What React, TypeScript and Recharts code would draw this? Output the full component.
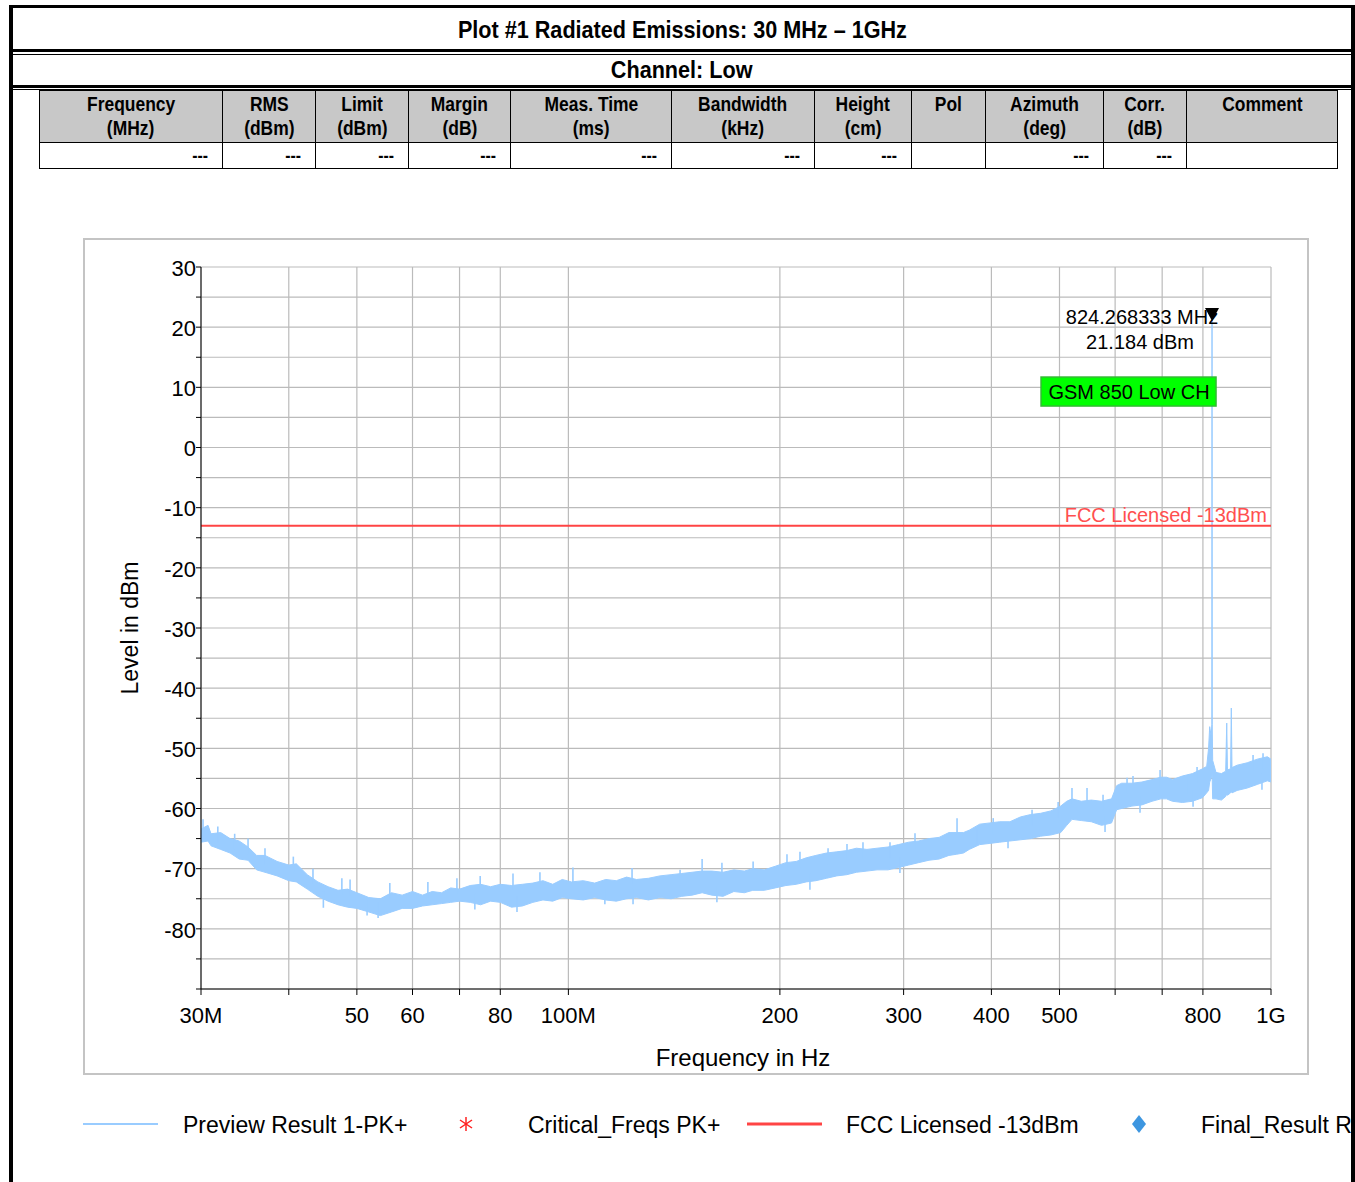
import React from 'react';
import { ComposedChart, Area, Scatter, XAxis, YAxis, CartesianGrid, ReferenceLine } from 'recharts';

// Preview Result 1-PK+ trace (band between lower and upper envelope), MHz / dBm
const freqMHz = [
  30, 30.7, 31, 32, 33, 34, 35, 36, 37, 38.5,
  40, 41, 42.5, 44, 45.5, 47, 48.5, 50, 52, 54,
  56, 58, 60, 62, 64, 66, 68, 70, 72.5, 75,
  77.5, 80, 83, 86, 89, 92, 95, 98, 101, 105,
  109, 113, 117, 121, 125, 130, 135, 140, 145, 150,
  155, 160, 166, 172, 178, 183, 190, 197, 204, 211,
  218, 225, 233, 241, 249, 257, 266, 275, 285, 295,
  305, 315, 326, 337, 348, 357, 365, 372, 385, 398,
  411, 425, 440, 455, 470, 486, 502, 512, 521, 537,
  555, 574, 593, 603, 613, 634, 655, 677, 697, 710,
  724, 748, 773, 799, 810, 815, 818, 822, 823.8, 824.27,
  824.8, 826, 835, 850, 862, 865, 867, 876, 878, 880,
  895, 925, 956, 988, 1000,
];
const peakHi = [
  -63.4, -62.8, -64.2, -64.0, -65.0, -65.4, -66.4, -67.8, -67.8, -68.8,
  -69.4, -69.2, -71.0, -72.2, -73.0, -73.6, -73.4, -74.0, -74.8, -75.0,
  -74.0, -74.4, -73.8, -74.4, -73.8, -74.0, -73.2, -73.4, -72.8, -72.6,
  -73.0, -72.6, -72.8, -72.6, -72.4, -72.0, -72.6, -71.8, -72.2, -72.0,
  -72.4, -71.8, -72.0, -71.4, -71.8, -71.6, -71.2, -71.0, -70.8, -70.6,
  -70.4, -70.4, -70.6, -70.2, -70.4, -70.0, -70.2, -69.6, -69.0, -68.8,
  -68.2, -67.8, -67.4, -67.2, -67.0, -66.6, -66.8, -66.6, -66.4, -66.0,
  -65.6, -65.4, -65.0, -64.8, -64.0, -64.0, -64.0, -63.6, -62.6, -62.4,
  -62.2, -62.2, -61.4, -61.0, -60.8, -60.4, -59.6, -58.8, -58.4, -58.8,
  -58.6, -58.8, -58.4, -56.2, -55.8, -55.8, -55.6, -55.2, -54.8, -54.8,
  -55.2, -54.6, -54.2, -53.4, -53.0, -50.0, -46.4, -48.0, -46.0, 21.184,
  -46.0, -52.0, -54.0, -54.2, -53.8, -45.8, -53.6, -53.4, -43.3, -53.2,
  -52.8, -52.4, -51.8, -51.4, -51.8,
];
const peakLo = [
  -65.6, -65.4, -66.2, -66.8, -67.4, -68.4, -68.6, -70.2, -70.6, -71.2,
  -72.0, -72.2, -73.4, -74.6, -75.4, -76.0, -76.4, -76.6, -77.2, -77.8,
  -77.2, -76.6, -76.6, -76.2, -76.0, -75.8, -75.6, -75.4, -75.6, -76.0,
  -75.4, -75.6, -76.4, -76.2, -75.6, -75.2, -75.4, -74.8, -75.0, -75.2,
  -74.8, -75.2, -75.4, -75.0, -74.8, -75.2, -74.8, -75.0, -74.6, -74.4,
  -74.0, -74.4, -74.6, -73.8, -74.0, -73.6, -73.6, -73.2, -72.8, -72.6,
  -72.2, -72.0, -71.6, -71.2, -71.0, -70.6, -70.4, -70.2, -70.2, -69.8,
  -69.4, -69.0, -68.6, -68.4, -67.8, -67.6, -67.4, -66.8, -66.0, -65.8,
  -65.6, -65.4, -65.2, -65.0, -64.6, -64.4, -64.0, -62.8, -61.8, -62.0,
  -62.2, -62.8, -62.4, -60.2, -60.0, -59.6, -59.4, -58.8, -58.4, -58.4,
  -58.8, -59.0, -58.8, -58.2, -57.4, -57.0, -55.6, -55.0, -54.8, -54.0,
  -55.0, -58.4, -58.4, -58.6, -58.0, -57.6, -57.8, -57.4, -57.2, -57.4,
  -57.0, -56.6, -56.0, -55.4, -55.6,
];

// single-sweep needles above and below the band
const upNeedleFreq = [
  30.2, 31.7, 33.5, 35.0, 37.0, 40.6, 43.3, 47.6, 48.9, 55.7,
  63.1, 69.4, 74.9, 83.4, 91.1, 101.5, 123.2, 144.2, 155, 165.4,
  183.2, 204.7, 213.6, 234.2, 249.2, 262.6, 286.9, 311.4, 357.4, 381.6,
  402.4, 457, 497.8, 520.9, 547.2, 576.7, 623.9, 636.2, 695.2, 759.6,
  784.8, 942.9, 974.2,
];
const upNeedleLevel = [
  -61.8, -63.0, -64.2, -65.0, -66.6, -68.0, -70.0, -71.6, -71.8, -72.4,
  -72.2, -71.6, -71.2, -70.8, -70.6, -69.8, -69.9, -70.2, -68.4, -69.0,
  -68.8, -67.6, -67.2, -66.6, -65.9, -65.6, -65.6, -64.1, -61.6, -63.3,
  -61.6, -60.2, -58.9, -56.6, -56.6, -57.7, -54.9, -54.6, -53.6, -54.8,
  -53.1, -51.1, -50.8,
];
const downNeedleFreq = [44.8, 51.7, 53.6, 73.6, 84.5, 112.7, 123.6, 162.7, 220.7, 296.4, 422.4, 580.5, 651, 774.6, 970.8];
const downNeedleLevel = [-76.5, -77.8, -78.2, -76.8, -77.2, -75.9, -75.9, -75.6, -73.5, -70.7, -66.6, -63.9, -60.7, -59.7, -56.9];

const limitDbm = -13;
const markerFreq = 824.268333;
const markerLevel = 21.184;

const xTicks = [30, 40, 50, 60, 70, 80, 100, 200, 300, 400, 500, 600, 700, 800, 1000];
const xTickLabels = ['30M', '', '50', '60', '', '80', '100M', '200', '300', '400', '500', '', '', '800', '1G'];
const yTicks = [-90, -85, -80, -75, -70, -65, -60, -55, -50, -45, -40, -35, -30, -25, -20, -15, -10, -5, 0, 5, 10, 15, 20, 25, 30];
const yTickLabels = ['', '', '-80', '', '-70', '', '-60', '', '-50', '', '-40', '', '-30', '', '-20', '', '-10', '', '0', '', '10', '', '20', '', '30'];

const headerTop = ['Frequency', 'RMS', 'Limit', 'Margin', 'Meas. Time', 'Bandwidth', 'Height', 'Pol', 'Azimuth', 'Corr.', 'Comment'];
const headerUnit = ['(MHz)', '(dBm)', '(dBm)', '(dB)', '(ms)', '(kHz)', '(cm)', '', '(deg)', '(dB)', ''];
const rowValues = ['---', '---', '---', '---', '---', '---', '---', '', '---', '---', ''];
const colWidths = [183, 93, 93, 102, 161, 143, 97, 74, 118, 83, 151];

const traceData = freqMHz.map((f, i) => ({ f, band: [peakLo[i], peakHi[i]] }));
const upNeedles = upNeedleFreq.map((f, i) => ({ f, v: upNeedleLevel[i] }));
const downNeedles = downNeedleFreq.map((f, i) => ({ f, v: downNeedleLevel[i] }));
const markerData = [{ f: markerFreq, v: markerLevel }];

const TRACE = '#99CCFF';
const SANS = "'Liberation Sans', Arial, sans-serif";

// condensed bold text for the report header (Arial Narrow look)
const Narrow = ({ children, origin = 'center', scale = 0.83 }: any) => (
  <span style={{ display: 'inline-block', transform: `scaleX(${scale})`, transformOrigin: origin, whiteSpace: 'nowrap' }}>{children}</span>
);

const UpNeedle = (props: any) => {
  const { cx, cy } = props;
  if (cx == null || cy == null) return null;
  return <line x1={cx} y1={cy} x2={cx} y2={cy + 16} stroke={TRACE} strokeWidth={1.6} />;
};

const DownNeedle = (props: any) => {
  const { cx, cy } = props;
  if (cx == null || cy == null) return null;
  return <line x1={cx} y1={cy} x2={cx} y2={cy - 16} stroke={TRACE} strokeWidth={1.6} />;
};

const PeakMarker = (props: any) => {
  const { cx, cy } = props;
  if (cx == null || cy == null) return null;
  return (
    <g fontFamily={SANS}>
      <text x={cx - 70} y={cy + 4} textAnchor="middle" fontSize={20} fill="#000">
        {`${markerFreq.toFixed(6)} MHz`}
      </text>
      <text x={cx - 72} y={cy + 29} textAnchor="middle" fontSize={20} fill="#000">
        {`${markerLevel.toFixed(3)} dBm`}
      </text>
      <polygon points={`${cx - 7},${cy - 12} ${cx + 7},${cy - 12} ${cx},${cy + 1}`} fill="#000" />
      <rect x={cx - 171} y={cy + 57} width={175} height={29} fill="#00FF00" stroke="#33BB33" strokeWidth={1.5} />
      <text x={cx - 83} y={cy + 79} textAnchor="middle" fontSize={20} fill="#000">GSM 850 Low CH</text>
    </g>
  );
};

const FreqTitle = (props: any) => {
  const vb = props.viewBox || {};
  return (
    <text x={vb.x + vb.width / 2 + 7} y={vb.y + 77} textAnchor="middle" fontSize={24} fontFamily={SANS} fill="#000">
      Frequency in Hz
    </text>
  );
};

const LegendText = ({ left, children }: any) => (
  <div style={{ position: 'absolute', left, top: 1110, fontSize: 23, fontFamily: SANS, lineHeight: '30px', whiteSpace: 'nowrap' }}>
    {children}
  </div>
);

export default function App() {
  return (
    <div style={{ position: 'absolute', left: 0, top: 0, width: 1355, height: 1182, overflow: 'hidden', background: '#fff' }}>
      {/* page frame and header rows */}
      <div style={{ position: 'absolute', left: 9, top: 5, width: 1346, height: 1200, boxSizing: 'border-box', borderLeft: '4px solid #000', borderRight: '4px solid #000', borderTop: '3px solid #000' }} />
      <div style={{ position: 'absolute', left: 13, top: 8, width: 1338, height: 41, textAlign: 'center', fontFamily: SANS, fontWeight: 'bold', fontSize: 24, lineHeight: '44px' }}>
        <Narrow scale={0.9}>Plot #1 Radiated Emissions: 30 MHz – 1GHz</Narrow>
      </div>
      <div style={{ position: 'absolute', left: 13, top: 49, width: 1338, height: 3, background: '#000' }} />
      <div style={{ position: 'absolute', left: 13, top: 54, width: 1338, height: 1, background: '#000' }} />
      <div style={{ position: 'absolute', left: 13, top: 55, width: 1338, height: 30, textAlign: 'center', fontFamily: SANS, fontWeight: 'bold', fontSize: 24, lineHeight: '30px' }}>
        <Narrow scale={0.9}>Channel: Low</Narrow>
      </div>
      <div style={{ position: 'absolute', left: 13, top: 85, width: 1338, height: 3, background: '#000' }} />
      <div style={{ position: 'absolute', left: 13, top: 89, width: 1338, height: 1, background: '#000' }} />

      <table style={{ position: 'absolute', left: 39, top: 90, width: 1298, borderCollapse: 'collapse', tableLayout: 'fixed', fontFamily: SANS, fontWeight: 'bold', fontSize: 21 }}>
        <colgroup>
          {colWidths.map((w, i) => <col key={i} style={{ width: w }} />)}
        </colgroup>
        <tbody>
          <tr style={{ height: 52, background: '#C8C8C8' }}>
            {headerTop.map((h, i) => (
              <td key={i} style={{ border: '1px solid #000', textAlign: 'center', verticalAlign: 'top', padding: '1px 0 0', lineHeight: '24px' }}>
                <Narrow>{h}</Narrow>
                {headerUnit[i] ? <br /> : null}
                {headerUnit[i] ? <Narrow>{headerUnit[i]}</Narrow> : null}
              </td>
            ))}
          </tr>
          <tr style={{ height: 26 }}>
            {rowValues.map((v, i) => (
              <td key={i} style={{ border: '1px solid #000', textAlign: 'right', padding: '0 14px 0 0', lineHeight: '24px', fontSize: 19 }}>
                <Narrow origin="right">{v}</Narrow>
              </td>
            ))}
          </tr>
        </tbody>
      </table>

      {/* chart box */}
      <div style={{ position: 'absolute', left: 83, top: 238, width: 1226, height: 837, boxSizing: 'border-box', border: '2px solid #C4C4C4' }} />
      <div style={{ position: 'absolute', left: 83, top: 238 }}>
        <ComposedChart width={1225} height={836} data={traceData} margin={{ top: 29, right: 37, bottom: 0, left: 0 }}>
          <CartesianGrid stroke="#BBBBBB" strokeWidth={1.2} />
          <XAxis
            dataKey="f"
            type="number"
            scale="log"
            domain={[30, 1000]}
            ticks={xTicks}
            interval={0}
            allowDataOverflow
            tickFormatter={(v: number) => xTickLabels[xTicks.indexOf(v)] ?? ''}
            height={85}
            tickSize={6}
            tickMargin={12}
            stroke="#000"
            tick={{ fill: '#000', fontSize: 22, fontFamily: SANS }}
            label={<FreqTitle />}
          />
          <YAxis
            type="number"
            domain={[-90, 30]}
            ticks={yTicks}
            interval={0}
            allowDataOverflow
            tickFormatter={(v: number) => yTickLabels[yTicks.indexOf(v)] ?? ''}
            width={118}
            tickSize={5}
            tickMargin={0}
            stroke="#000"
            tick={{ fill: '#000', fontSize: 22, fontFamily: SANS, dy: 1 }}
            label={{ value: 'Level in dBm', angle: -90, position: 'insideLeft', offset: 47, fill: '#000', fontSize: 23, fontFamily: SANS, style: { textAnchor: 'middle' } }}
          />
          <Area
            type="linear"
            dataKey="band"
            stroke={TRACE}
            strokeWidth={1}
            fill={TRACE}
            fillOpacity={1}
            dot={false}
            activeDot={false}
            isAnimationActive={false}
          />
          <Scatter data={upNeedles} dataKey="v" shape={UpNeedle} isAnimationActive={false} />
          <Scatter data={downNeedles} dataKey="v" shape={DownNeedle} isAnimationActive={false} />
          <ReferenceLine
            y={limitDbm}
            stroke="#FF4444"
            strokeWidth={2}
            label={{ value: 'FCC Licensed -13dBm', position: 'insideBottomRight', offset: 4, fill: '#FF4F4F', fontSize: 20, fontFamily: SANS }}
          />
          <Scatter data={markerData} dataKey="v" shape={PeakMarker} isAnimationActive={false} />
        </ComposedChart>
      </div>

      {/* legend */}
      <svg style={{ position: 'absolute', left: 0, top: 1100 }} width={1355} height={50}>
        <line x1={83} y1={24} x2={158} y2={24} stroke={TRACE} strokeWidth={2} />
        <g stroke="#FF2020" strokeWidth={1.5}>
          <line x1={466} y1={17} x2={466} y2={31} />
          <line x1={460} y1={20} x2={472} y2={28} />
          <line x1={460} y1={28} x2={472} y2={20} />
        </g>
        <line x1={747} y1={24} x2={822} y2={24} stroke="#FF4444" strokeWidth={3} />
        <polygon points="1139,15 1146,24 1139,33 1132,24" fill="#3D96E0" />
      </svg>
      <LegendText left={183}>Preview Result 1-PK+</LegendText>
      <LegendText left={528}>Critical_Freqs PK+</LegendText>
      <LegendText left={846}>FCC Licensed -13dBm</LegendText>
      <div style={{ position: 'absolute', left: 1201, top: 1110, width: 150, height: 30, overflow: 'hidden' }}>
        <div style={{ fontSize: 23, fontFamily: SANS, lineHeight: '30px', whiteSpace: 'nowrap' }}>Final_Result RMS</div>
      </div>
      <div style={{ position: 'absolute', left: 1351, top: 5, width: 4, height: 1182, background: '#000' }} />
    </div>
  );
}
